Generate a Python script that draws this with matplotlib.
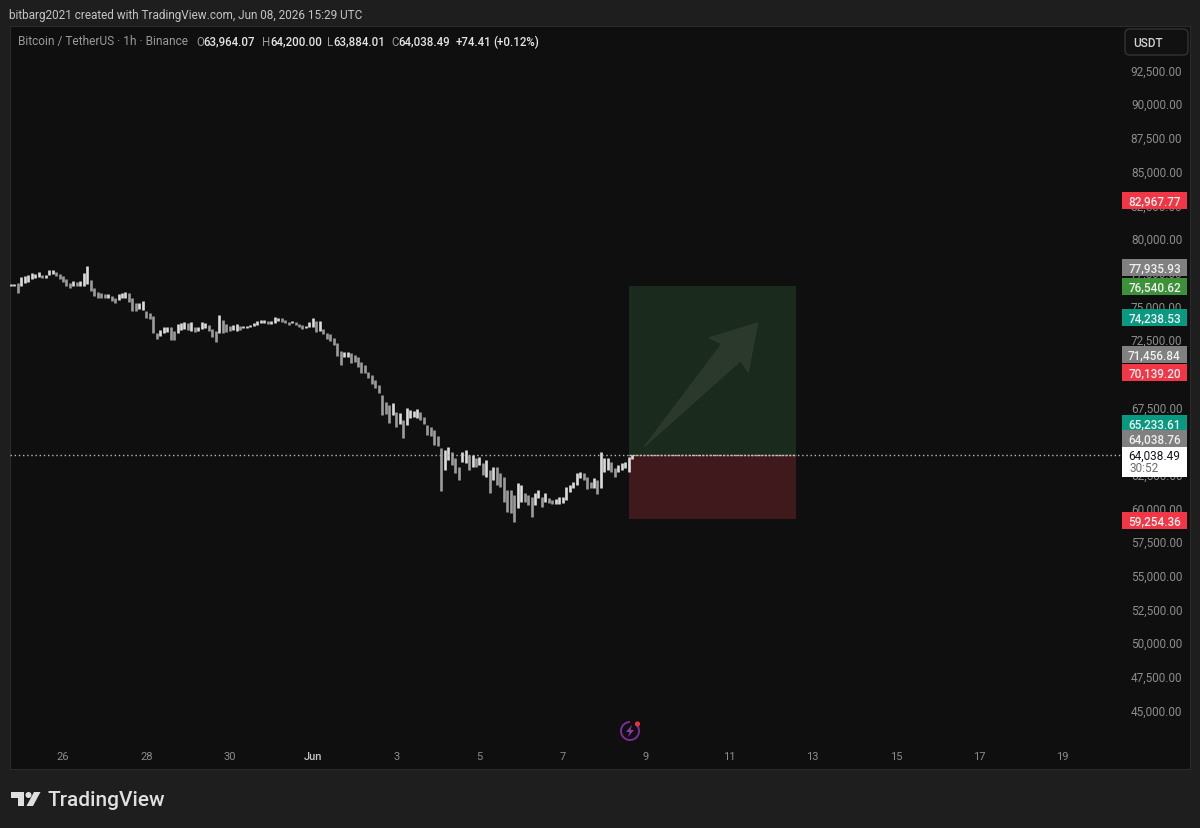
import matplotlib
matplotlib.use("Agg")
import matplotlib.pyplot as plt
import matplotlib.dates as mdates
import numpy as np
import pandas as pd
from matplotlib.patches import Polygon, Rectangle, FancyBboxPatch, Circle, Arc
from matplotlib.transforms import blended_transform_factory, ScaledTranslation

plt.rcParams["font.family"] = ["Roboto", "DejaVu Sans"]

# 2h bars, first bar 2026-05-24 18:00
highs = [76690, 76690, 76770, 77210, 77290, 77360, 77510, 77430, 77580, 77360,
         77360, 77730, 77730, 77580, 77430, 77290, 77060, 76770, 76910, 76840,
         76910, 77510, 78030, 76990, 76400, 76100, 76020, 75950, 75950, 75800,
         75650, 75950, 76020, 76100, 76020, 75650, 75280, 75280, 75430, 74690,
         74540, 74310, 73060, 73280, 73500, 73500, 73500, 73210, 73720, 73800,
         73870, 73800, 73870, 73500, 73500, 73870, 73800, 73650, 73350, 73210,
         74390, 74020, 73720, 73570, 73650, 73720, 73570, 73570, 73570, 73650,
         73800, 73950, 74020, 74020, 73950, 73950, 74240, 74170, 74170, 74020,
         73870, 73950, 73870, 73720, 73650, 73570, 73870, 74170, 73950, 73950,
         73350, 73060, 72980, 72680, 72320, 71720, 71650, 71650, 71570, 71420,
         71270, 70900, 70680, 70160, 69940, 69570, 69200, 68450, 67930, 67710,
         67860, 67190, 67120, 66600, 67490, 67340, 67270, 67410, 67190, 66820,
         66230, 66080, 65860, 65410, 64520, 64370, 64590, 64220, 63780, 63110,
         64220, 64370, 64000, 64000, 63780, 63850, 63410, 63630, 62890, 63110,
         63110, 62670, 62370, 61410, 61410, 61030, 61930, 61780, 61180, 61030,
         60890, 61180, 61410, 60890, 61180, 60810, 60660, 60740, 60890, 60890,
         61630, 61780, 62000, 62670, 62740, 62670, 62370, 62000, 62300, 62150,
         64220, 63780, 63780, 63480, 63040, 63260, 63410, 63480, 63850, 64000]
lows = [76540, 76540, 76020, 76540, 76770, 76840, 77060, 77140, 77210, 77140,
        77140, 77360, 77430, 77290, 77060, 76840, 76540, 76400, 76540, 76540,
        76540, 76540, 76690, 76170, 75800, 75650, 75650, 75650, 75650, 75430,
        75280, 75510, 75650, 75650, 75360, 74690, 74690, 74840, 74760, 74170,
        74090, 73060, 72610, 72830, 73060, 73130, 72540, 72540, 73060, 73280,
        73350, 73280, 73210, 73130, 73210, 73350, 73430, 73210, 72760, 72390,
        73060, 73060, 73130, 73210, 73280, 73210, 73280, 73430, 73430, 73500,
        73570, 73650, 73800, 73800, 73720, 73720, 73800, 73950, 73870, 73800,
        73650, 73800, 73650, 73500, 73350, 73430, 73500, 73500, 73130, 73210,
        72980, 72610, 72470, 72170, 71350, 70680, 71270, 71270, 70830, 70900,
        70530, 70090, 70090, 69720, 69270, 68980, 68600, 66970, 67040, 66380,
        66970, 66080, 66300, 65260, 66230, 66750, 66820, 66750, 66600, 66300,
        65490, 65410, 64740, 64670, 61330, 62890, 63630, 63260, 62670, 62150,
        63480, 63410, 62890, 63110, 63110, 63260, 62520, 62370, 61180, 62150,
        61780, 61630, 60510, 59770, 59700, 59030, 60070, 60510, 60510, 60290,
        59400, 60290, 60810, 60140, 60510, 60440, 60370, 60370, 60370, 60440,
        60660, 61260, 61560, 61780, 62300, 62150, 61480, 61560, 61560, 61110,
        61560, 62740, 62890, 62740, 62370, 62740, 62890, 63040, 62740, 63700]

price_ticks = [92500, 90000, 87500, 85000, 82500, 80000, 77500, 75000, 72500, 70000,
               67500, 65000, 62500, 60000, 57500, 55000, 52500, 50000, 47500, 45000]
day_ticks = ["2026-05-26", "2026-05-28", "2026-05-30", "2026-06-01", "2026-06-03",
             "2026-06-05", "2026-06-07", "2026-06-09", "2026-06-11", "2026-06-13",
             "2026-06-15", "2026-06-17", "2026-06-19"]
day_labels = ["26", "28", "30", "Jun", "3", "5", "7", "9", "11", "13", "15", "17", "19"]

# value on the tag, where the tag sits (two got pushed up by the chart), colour
tag_values = [82967.77, 77935.93, 76540.62, 74238.53, 71456.84, 70139.20, 65233.61, 64038.76, 59254.36]
tag_places = [82926, 77935, 76540, 74238, 71456, 70139, 66350, 65210, 59130]
tag_colors = ["#f23645", "#808080", "#3d9139", "#089981", "#808080", "#f23645", "#089981", "#808080", "#f23645"]

last_price = 64038.49
target = 76540.62
stop = 59254.36
pos_start = "2026-06-08 14:00"
pos_end = "2026-06-12 14:24"

BG = "#1e1e1e"
PANEL = "#0f0f0f"
W, H = 1200, 829


def fx(x):
    return x / W


def fy(y):
    return 1 - y / H


def ftext(x, y, s, **kw):
    kw.setdefault("va", "center")
    fig.text(fx(x), fy(y), s, **kw)


def fpoly(points, **kw):
    pts = [(fx(x), fy(y)) for x, y in points]
    fig.add_artist(Polygon(pts, closed=True, transform=fig.transFigure, **kw))


fig = plt.figure(figsize=(W / 100, H / 100), dpi=100, facecolor=BG)
ax = fig.add_axes([fx(10), fy(770), fx(1180), (770 - 27) / H], facecolor=PANEL)

dates = pd.date_range("2026-05-24 18:00", periods=len(highs), freq="2h")
highs = np.array(highs)
lows = np.array(lows)
mids = (highs + lows) / 2
colors = ["#dcdcdc"] + ["#dcdcdc" if m >= p else "#9c9c9c" for m, p in zip(mids[1:], mids[:-1])]
ax.vlines(dates, lows, highs, colors=colors, linewidth=1.9, zorder=3)

# long position tool
ts0, ts1 = pd.Timestamp(pos_start), pd.Timestamp(pos_end)
x0, x1 = mdates.date2num(ts0), mdates.date2num(ts1)
ax.add_patch(Rectangle((x0, last_price), x1 - x0, target - last_price, facecolor="#1a2a1c", edgecolor="none", zorder=1))
ax.add_patch(Rectangle((x0, stop), x1 - x0, last_price - stop, facecolor="#3f191c", edgecolor="none", zorder=1))
ax.plot([x0, x1], [last_price, last_price], color="#c9c9c9", linewidth=1.0, linestyle=(0, (1.5, 1)), zorder=2)

# last price line
trans = blended_transform_factory(ax.transAxes, ax.transData)
ax.plot([0, 0.9424], [last_price, last_price], color="#b9b9b9", linewidth=1.0,
        linestyle=(0, (1, 2)), transform=trans, zorder=4)

ax.set_xlim(pd.Timestamp("2026-05-24 17:28"), pd.Timestamp("2026-06-22 01:28"))
ax.set_ylim(40710, 95856)

ax.set_xticks(pd.to_datetime(day_ticks))
ax.set_xticklabels(day_labels)
ax.tick_params(axis="x", length=0, pad=-13, labelsize=8, labelcolor="#8c8c8c")
ax.get_xticklabels()[3].set_color("#c4c4c4")
ax.get_xticklabels()[3].set_fontweight("medium")

ax.yaxis.tick_right()
ax.set_yticks(price_ticks)
ax.set_yticklabels(["{:,.2f}".format(p) for p in price_ticks], ha="right")
ax.tick_params(axis="y", length=0, pad=-5.5, labelsize=8.5, labelcolor="#8c8c8c")
nudge = ScaledTranslation(0, 1.2 / 72, fig.dpi_scale_trans)
for lab in ax.get_yticklabels():
    lab.set_transform(lab.get_transform() + nudge)
for s in ax.spines.values():
    s.set_color("#2b2b2b")
    s.set_linewidth(0.8)

# price tags on the scale
tag_x = (1122 - 10) / 1180
tag_w = 65 / 1180
for val, place, col in zip(tag_values, tag_places, tag_colors):
    ax.add_patch(Rectangle((tag_x, place - 630), tag_w, 1260, transform=trans, facecolor=col,
                           edgecolor="none", zorder=5, clip_on=False))
    ax.text(tag_x + tag_w / 2, place - 20, "{:,.2f}".format(val), transform=trans, ha="center", va="center",
            fontsize=8.5, color="#f0f0f0", fontweight="medium", zorder=6)

ax.add_patch(Rectangle((tag_x, 62360), tag_w, 2240, transform=trans, facecolor="#ffffff",
                       edgecolor="none", zorder=5, clip_on=False))
ax.text(tag_x + tag_w / 2, last_price - 10, "{:,.2f}".format(last_price), transform=trans, ha="center", va="center",
        fontsize=8.5, color="#131722", zorder=6)
ax.text(tag_x + 8 / 1180, 63110, "30:52", transform=trans, ha="left", va="center",
        fontsize=8.5, color="#6a6a6a", zorder=6)

# arrow drawn on the position
fpoly([(757.7, 324), (709, 338.7), (721.7, 345), (644, 448), (740.7, 361.7), (748.3, 373.3)],
      facecolor="#2b392d", edgecolor="#2f3d31", linewidth=0.6, zorder=5)

# header
ftext(9, 15, "bitbarg2021 created with TradingView.com, Jun 08, 2026 15:29 UTC", fontsize=8.45, color="#c4c4c4")
ftext(18, 42, "Bitcoin / TetherUS · 1h · Binance", fontsize=8.6, color="#9a9a9a")
for x, letter, vx, val in [(196, "O", 203.6, "63,964.07"), (262, "H", 270, "64,200.00"),
                           (327, "L", 333, "63,884.01"), (391, "C", 398, "64,038.49")]:
    ftext(x, 42, letter, fontsize=8.3, color="#9a9a9a")
    ftext(vx, 42, val, fontsize=8.3, color="#e4e4e4", fontweight="medium")
ftext(456, 42, "+74.41", fontsize=8.3, color="#e4e4e4", fontweight="medium")
ftext(493, 42, "(+0.12%)", fontsize=8.3, color="#e4e4e4", fontweight="medium")

# currency button
fig.add_artist(FancyBboxPatch((fx(1125), fy(56)), fx(63), 26 / H, boxstyle="round,pad=0,rounding_size=0.004",
                              transform=fig.transFigure, facecolor="#111111", edgecolor="#333333",
                              linewidth=1.0, zorder=5, mutation_aspect=1.4))
ftext(1133, 43.5, "USDT", fontsize=8.5, color="#d4d4d4", fontweight="medium", zorder=6)

# lightning icon
ring_ax = fig.add_axes([0, 0, 1, 1], facecolor="none")
ring_ax.set_xlim(0, W)
ring_ax.set_ylim(H, 0)
ring_ax.axis("off")
ring_ax.add_patch(Arc((630, 732), 18, 18, theta1=-50, theta2=270, color="#7f2b97", linewidth=1.4))
ring_ax.add_patch(Polygon([(632, 726), (626, 733), (629.5, 733), (628, 738), (634, 731), (630.5, 731)],
                          closed=True, facecolor="#8f3aa8", edgecolor="none"))
ring_ax.add_patch(Circle((637.5, 725), 2.6, facecolor="#e5303f", edgecolor="none"))

# logo
logo = "#e0e0e0"
ring_ax.add_patch(Polygon([(11, 793), (24, 793), (24, 807), (18, 807), (18, 799), (11, 799)],
                          closed=True, facecolor=logo, edgecolor="none"))
ring_ax.add_patch(Circle((28.5, 796), 3, facecolor=logo, edgecolor="none"))
ring_ax.add_patch(Polygon([(34, 793), (40.5, 793), (33, 807), (26.5, 807)],
                          closed=True, facecolor=logo, edgecolor="none"))
ftext(47.5, 800.5, "TradingView", fontsize=15, color=logo, fontweight="medium")

fig.savefig("out.png", dpi=100, facecolor=BG)
